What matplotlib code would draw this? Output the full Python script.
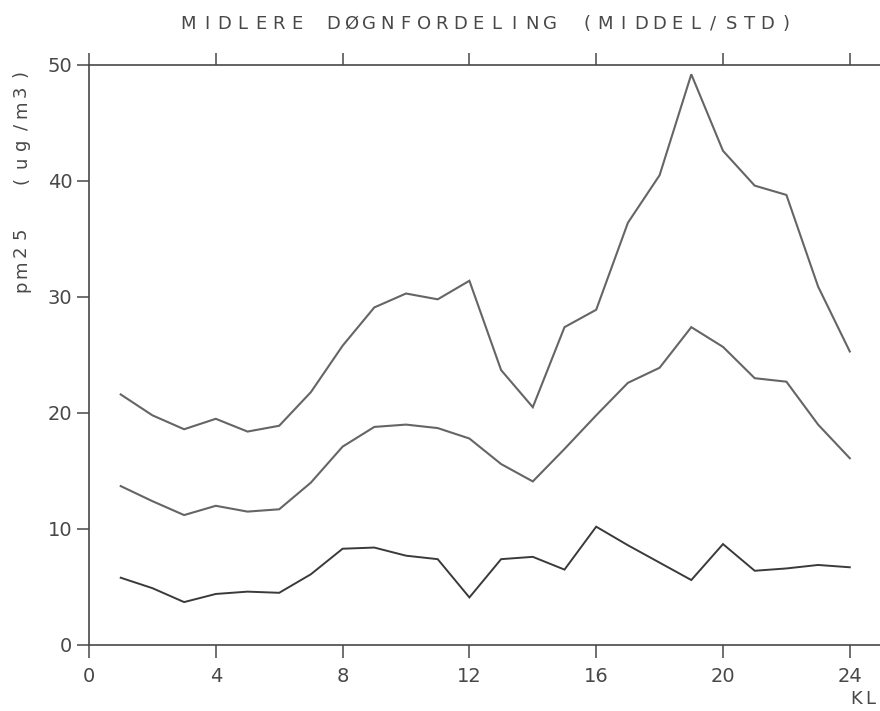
import numpy as np
import matplotlib
matplotlib.use("Agg")
import matplotlib.pyplot as plt

# Hourly profile (KL 1..24) of PM2.5, ug/m3
hours = list(range(1, 25))
upper = [21.6, 19.8, 18.6, 19.5, 18.4, 18.9, 21.8, 25.8, 29.1, 30.3, 29.8, 31.4,
         23.7, 20.5, 27.4, 28.9, 36.4, 40.5, 49.2, 42.6, 39.6, 38.8, 30.9, 25.3]
middel = [13.7, 12.4, 11.2, 12.0, 11.5, 11.7, 14.0, 17.1, 18.8, 19.0, 18.7, 17.8,
          15.6, 14.1, 16.9, 19.8, 22.6, 23.9, 27.4, 25.7, 23.0, 22.7, 19.0, 16.1]
std = [5.8, 4.9, 3.7, 4.4, 4.6, 4.5, 6.1, 8.3, 8.4, 7.7, 7.4, 4.1,
       7.4, 7.6, 6.5, 10.2, 8.6, 7.1, 5.6, 8.7, 6.4, 6.6, 6.9, 6.7]

xticks = [0, 4, 8, 12, 16, 20, 24]
yticks = [0, 10, 20, 30, 40, 50]
title = "MIDLERE DØGNFORDELING (MIDDEL/STD)"
ylabel = "pm25  (ug/m3)"
xlabel = "KL"

W, H = 880, 711
fig = plt.figure(figsize=(W / 100, H / 100), dpi=100)
fig.patch.set_facecolor("white")

INK = "#484848"
plt.rcParams["font.family"] = ["DejaVu Sans"]

# axes box in pixel terms: x=0 at 89px, 31.7 px per hour, y 0..50 from 645px to 65px
left, right, bottom, top = 89, 880, 645, 65
ax = fig.add_axes([left / W, (H - bottom) / H, (right - left) / W, (bottom - top) / H])
ax.set_xlim(0, (right - left) / 31.7)
ax.set_ylim(0, 50)

ax.plot(hours, upper, color="#656565", lw=1.5, solid_joinstyle="miter")
ax.plot(hours, middel, color="#656565", lw=1.5, solid_joinstyle="miter")
ax.plot(hours, std, color="#3a3a3a", lw=1.4, solid_joinstyle="miter")

for side in ("left", "bottom", "top"):
    ax.spines[side].set_color(INK)
    ax.spines[side].set_linewidth(1.2)
ax.spines["right"].set_visible(False)

ax.set_xticks(xticks)
ax.set_yticks(yticks)
ax.tick_params(axis="x", which="both", direction="out", length=9, width=1.1,
               color=INK, top=True, labeltop=False, labelsize=14,
               labelcolor=INK, pad=7)
ax.tick_params(axis="y", which="both", direction="out", length=9, width=1.1,
               color=INK, right=False, labelsize=14, labelcolor=INK, pad=3)


def spaced_text(s, cx, cy, step, rotation=0, size=12.5, color=INK):
    """Place characters one by one with a fixed pitch (pixels), centred on (cx, cy)."""
    n = len(s)
    for i, ch in enumerate(s):
        off = (i - (n - 1) / 2) * step
        if rotation == 0:
            x, y = cx + off, cy
        else:
            x, y = cx, cy - off
        if ch == " ":
            continue
        fig.text(x / W, 1 - y / H, ch, ha="center", va="center", rotation=rotation,
                 fontsize=size, color=color)


spaced_text(title, 487, 24, 18.1, size=13)
spaced_text(ylabel, 21, 180, 17.75, rotation=90, size=13)
spaced_text(xlabel, 863, 699, 14, size=13)

fig.savefig("out.png", dpi=100, facecolor="white")
